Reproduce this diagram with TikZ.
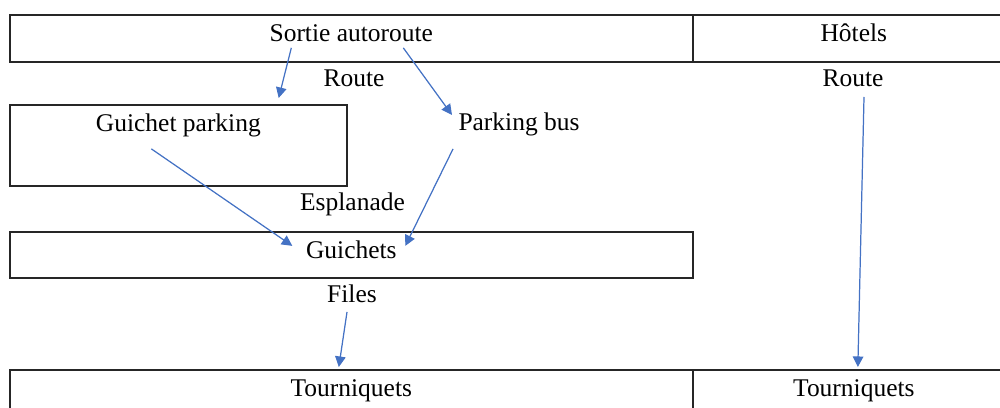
\documentclass[tikz,border=0pt]{standalone}
\usepackage{fontspec}
\setmainfont{Liberation Serif}
\usepackage{tikz}
\usetikzlibrary{arrows.meta}
\definecolor{flowblue}{HTML}{4472C4}

\begin{document}
\begin{tikzpicture}[x=0.02cm,y=-0.02cm,>={Triangle[length=6pt,width=6pt]},
    font=\fontsize{14.5}{17}\selectfont,
    cell/.style={draw=black!85,line width=1pt,rectangle,inner sep=0pt,anchor=north west,text height=0.54cm},
    lbl/.style={inner sep=0pt,anchor=base},
    flow/.style={->,draw=flowblue,fill=flowblue,line width=0.7pt}]
      \clip (0,0) rectangle (1000,408);
      % rows of the plan
      \node[cell,minimum width=13.66cm,text depth=0.40cm] (sortie) at (9,14) {Sortie autoroute};
      \node[cell,minimum width=6.44cm,text depth=0.40cm] (hotels) at (692,14) {Hôtels};
      \node[cell,minimum width=6.74cm,text depth=1.08cm] (gpark) at (9,104) {Guichet parking};
      \node[cell,minimum width=13.66cm,text depth=0.38cm] (guichets) at (9,231) {Guichets};
      \node[cell,minimum width=13.66cm,text depth=0.40cm] (tourn) at (9,369) {Tourniquets};
      \node[cell,minimum width=6.44cm,text depth=0.40cm] (tournR) at (692,369) {Tourniquets};

      \node[lbl] (routeL) at (354,87) {Route};
      \node[lbl] (routeR) at (853,87) {Route};
      \node[lbl] (pbus) at (519,131) {Parking bus};
      \node[lbl] (espl) at (352.5,211) {Esplanade};
      \node[lbl] (files) at (352,303) {Files};

      \draw[flow] ([shift={(-60,6)}]sortie.base) -- ([shift={(-69,-6)}]gpark.north east);
      \draw[flow] ([shift={(52,6)}]sortie.base) -- ([shift={(-67,-16)}]pbus.base);
      \draw[flow] ([shift={(-27,17)}]gpark.base) -- ([shift={(-59,-13)}]guichets.base);
      \draw[flow] ([shift={(-66,18)}]pbus.base) -- ([shift={(54,-13)}]guichets.base);
      \draw[flow] ([shift={(-5,9)}]files.base) -- ([shift={(-12.5,-2)}]tourn.north);
      \draw[flow] ([shift={(11,10)}]routeR.base) -- ([shift={(4,-2)}]tournR.north);
    \end{tikzpicture}
\end{document}
